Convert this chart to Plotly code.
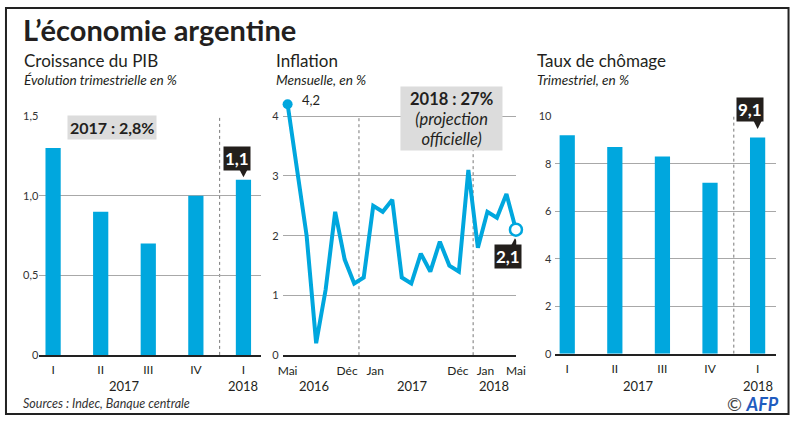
import plotly.graph_objects as go

W, H = 800, 421
BLUE = "#00a7de"
DARK = "#231f20"
BOXDARK = "#231f1c"
GRID = "#a8a8a8"
FONT = "Lato"

# ---------------- data ----------------
pib_labels = ["I", "II", "III", "IV", "I"]
pib_vals = [1.3, 0.9, 0.7, 1.0, 1.1]
pib_ticks = [0, 0.5, 1.0, 1.5]
pib_ticktext = ["0", "0,5", "1,0", "1,5"]
pib_years = ["2017", "2018"]
pib_year_pos = [1.5, 4]

infl_vals = [4.2, 3.1, 2.0, 0.2, 1.1, 2.4, 1.6, 1.2, 1.3, 2.5, 2.4, 2.6, 1.3,
             1.2, 1.7, 1.4, 1.9, 1.5, 1.4, 3.1, 1.8, 2.4, 2.3, 2.7, 2.1]
infl_ticks = [0, 1, 2, 3, 4]
infl_ticktext = ["0", "1", "2", "3", "4"]
infl_month_labels = ["Mai", "Déc", "Jan", "Déc", "Jan", "Mai"]
infl_month_pos = [0, 6.25, 9.2, 17.9, 20.8, 24]
infl_years = ["2016", "2017", "2018"]
infl_year_pos = [2.8, 13.1, 21.7]
infl_seps = [7.5, 19.5]

chom_labels = ["I", "II", "III", "IV", "I"]
chom_vals = [9.2, 8.7, 8.3, 7.2, 9.1]
chom_ticks = [0, 2, 4, 6, 8, 10]
chom_ticktext = ["0", "2", "4", "6", "8", "10"]
chom_years = ["2017", "2018"]
chom_year_pos = [1.5, 4]

quarter_sep = 3.5


def px_x(x):
    return x / W


def px_y(y):
    return (H - y) / H


fig = go.Figure()

fig.add_trace(go.Bar(x=list(range(len(pib_vals))), y=pib_vals, width=0.32,
                     marker=dict(color=BLUE, line=dict(width=0)),
                     xaxis="x", yaxis="y", hoverinfo="skip"))

xi = list(range(len(infl_vals)))
fig.add_trace(go.Scatter(x=xi, y=infl_vals, mode="lines",
                         line=dict(color=BLUE, width=4),
                         xaxis="x2", yaxis="y2", hoverinfo="skip"))
fig.add_trace(go.Scatter(x=[xi[0]], y=[infl_vals[0]], mode="markers",
                         marker=dict(color=BLUE, size=10),
                         cliponaxis=False, xaxis="x2", yaxis="y2", hoverinfo="skip"))
fig.add_trace(go.Scatter(x=[xi[-1]], y=[infl_vals[-1]], mode="markers",
                         marker=dict(color="white", size=12,
                                     line=dict(color=BLUE, width=2.5)),
                         cliponaxis=False, xaxis="x2", yaxis="y2", hoverinfo="skip"))

fig.add_trace(go.Bar(x=list(range(len(chom_vals))), y=chom_vals, width=0.32,
                     marker=dict(color=BLUE, line=dict(width=0)),
                     xaxis="x3", yaxis="y3", hoverinfo="skip"))

common_x = dict(showgrid=False, zeroline=False, showline=True, linecolor="#222",
                linewidth=2, ticks="", ticklabelstandoff=3,
                tickfont=dict(size=12, color=DARK, family=FONT), fixedrange=True)
common_y = dict(showgrid=True, gridcolor=GRID, gridwidth=1.2, zeroline=False,
                showline=False, ticks="", tickfont=dict(size=11, color="#333", family=FONT),
                fixedrange=True)

fig.update_layout(
    width=W, height=H,
    margin=dict(l=0, r=0, t=0, b=0),
    paper_bgcolor="white", plot_bgcolor="white",
    showlegend=False,
    font=dict(family=FONT, color=DARK),
    xaxis=dict(domain=[px_x(35), px_x(261)], range=[-0.289, 4.371],
               tickvals=list(range(len(pib_labels))), ticktext=pib_labels,
               anchor="y", **common_x),
    yaxis=dict(domain=[px_y(359), px_y(112.7)], range=[0, 1.5],
               tickvals=pib_ticks, ticktext=pib_ticktext, anchor="x", **common_y),
    xaxis2=dict(domain=[px_x(283), px_x(521)], range=[-0.516, 24.03],
                tickvals=infl_month_pos, ticktext=infl_month_labels,
                anchor="y2", **common_x),
    yaxis2=dict(domain=[px_y(359.3), px_y(94.2)], range=[0, 4.3],
                tickvals=infl_ticks, ticktext=infl_ticktext, anchor="x2",
                ticklabelstandoff=3, **common_y),
    xaxis3=dict(domain=[px_x(561), px_x(786)], range=[-0.247, 4.392],
                tickvals=list(range(len(chom_labels))), ticktext=chom_labels,
                anchor="y3", **common_x),
    yaxis3=dict(domain=[px_y(357.7), px_y(112.7)], range=[0, 10],
                tickvals=chom_ticks, ticktext=chom_ticktext, anchor="x3",
                ticklabelstandoff=3, **common_y),
)

shapes = []
dot = dict(color="#777", width=1, dash="dot")
shapes.append(dict(type="line", xref="x", yref="y", x0=quarter_sep, x1=quarter_sep,
                   y0=0, y1=pib_ticks[-1], line=dot, layer="below"))
for s in infl_seps:
    shapes.append(dict(type="line", xref="x2", yref="y2", x0=s, x1=s,
                       y0=0, y1=infl_ticks[-1], line=dot, layer="below"))
shapes.append(dict(type="line", xref="x3", yref="y3", x0=quarter_sep, x1=quarter_sep,
                   y0=0, y1=chom_ticks[-1], line=dot, layer="below"))
# grey box in inflation panel
shapes.append(dict(type="rect", xref="paper", yref="paper",
                   x0=px_x(403), x1=px_x(507), y0=px_y(148), y1=px_y(82),
                   fillcolor="#dcdcdc", line=dict(width=0), layer="above"))
# frame
shapes.append(dict(type="rect", xref="paper", yref="paper",
                   x0=px_x(1), x1=px_x(798.5), y0=px_y(420), y1=px_y(1),
                   line=dict(color="#222", width=2), fillcolor="rgba(0,0,0,0)"))


# callout pointers (pixel-sized triangles anchored on the data points)
def pointer(xref, yref, x, y, path):
    shapes.append(dict(type="path", xref=xref, yref=yref, xsizemode="pixel",
                       ysizemode="pixel", xanchor=x, yanchor=y, path=path,
                       fillcolor=BOXDARK, line=dict(width=0), layer="above"))


last = len(pib_vals) - 1
pointer("x", "y", last, pib_vals[-1], "M -5 12 L 5 12 L 0 2.5 Z")
pointer("x3", "y3", last, chom_vals[-1], "M -5 18.5 L 5 18.5 L 0 8.5 Z")
pointer("x2", "y2", xi[-1], infl_vals[-1], "M -5 -16 L 4 -16 L -1 -8.5 Z")
fig.update_layout(shapes=shapes)

ann = []


def txt(text, x, y, size, xanchor="left", yanchor="middle", color=DARK, **kw):
    ann.append(dict(text=text, x=px_x(x), y=px_y(y), xref="paper", yref="paper",
                    xanchor=xanchor, yanchor=yanchor, showarrow=False,
                    font=dict(size=size, color=color, family=FONT), **kw))


def heading(title, sub, x):
    txt('<span style="font-size:17px">%s</span><br><i>%s</i>' % (title, sub),
        x, 63.5, 13.6, align="left")


# titles
txt("<b>L’économie argentine</b>", 16, 23, 29)
heading("Croissance du PIB", "Évolution trimestrielle en %", 17)
heading("Inflation", "Mensuelle, en %", 274)
heading("Taux de chômage", "Trimestriel, en %", 540)
txt("<i>Sources : Indec, Banque centrale</i>", 16, 409, 12.5, color="#333")
txt('<span style="color:#444">©</span> <span style="color:#1f5cbf"><b><i>AFP</i></b></span>',
    791, 410, 18, xanchor="right")

# year labels
for lab, pos in zip(pib_years, pib_year_pos):
    ann.append(dict(text=lab, x=pos, y=px_y(391), xref="x", yref="paper",
                    xanchor="center", yanchor="middle", showarrow=False,
                    font=dict(size=13, color=DARK, family=FONT)))
for lab, pos in zip(infl_years, infl_year_pos):
    ann.append(dict(text=lab, x=pos, y=px_y(391), xref="x2", yref="paper",
                    xanchor="center", yanchor="middle", showarrow=False,
                    font=dict(size=13, color=DARK, family=FONT)))
for lab, pos in zip(chom_years, chom_year_pos):
    ann.append(dict(text=lab, x=pos, y=px_y(391), xref="x3", yref="paper",
                    xanchor="center", yanchor="middle", showarrow=False,
                    font=dict(size=13, color=DARK, family=FONT)))

# grey callout 2017
txt("<b>2017 : 2,8%</b>", 109.5, 124, 16, xanchor="center",
    bgcolor="#dcdcdc", borderpad=2)
# middle grey box text (one block)
txt('<span style="font-size:16.5px"><b>2018 : 27%</b></span><br>'
    '<span style="font-size:16.5px"><i>(projection</i></span><br>'
    '<span style="font-size:16.5px"><i>officielle)</i></span>',
    455, 116, 15.5, xanchor="center", align="center")

# value labels
ann.append(dict(text="4,2", x=xi[0], y=infl_vals[0], xref="x2", yref="y2",
                xanchor="left", yanchor="middle", xshift=12, yshift=4, showarrow=False,
                font=dict(size=13, color=DARK, family=FONT)))


def callout(text, x, y, xr, yr, xshift, yshift):
    ann.append(dict(text="<b>%s</b>" % text, x=x, y=y, xref=xr, yref=yr,
                    xanchor="center", yanchor="middle",
                    xshift=xshift, yshift=yshift, showarrow=False, bgcolor=BOXDARK,
                    borderpad=1, font=dict(size=17, color="white", family=FONT)))


callout("1,1", last, pib_vals[-1], "x", "y", -6, 21.5)
callout("9,1", last, chom_vals[-1], "x3", "y3", -8, 28.5)
callout("2,1", xi[-1], infl_vals[-1], "x2", "y2", -8, -26.5)

fig.update_layout(annotations=ann)

fig.write_html("out.html",
               config={"displayModeBar": False},
               post_script="document.body.style.margin='0';"
                           "document.body.style.overflow='hidden';")
